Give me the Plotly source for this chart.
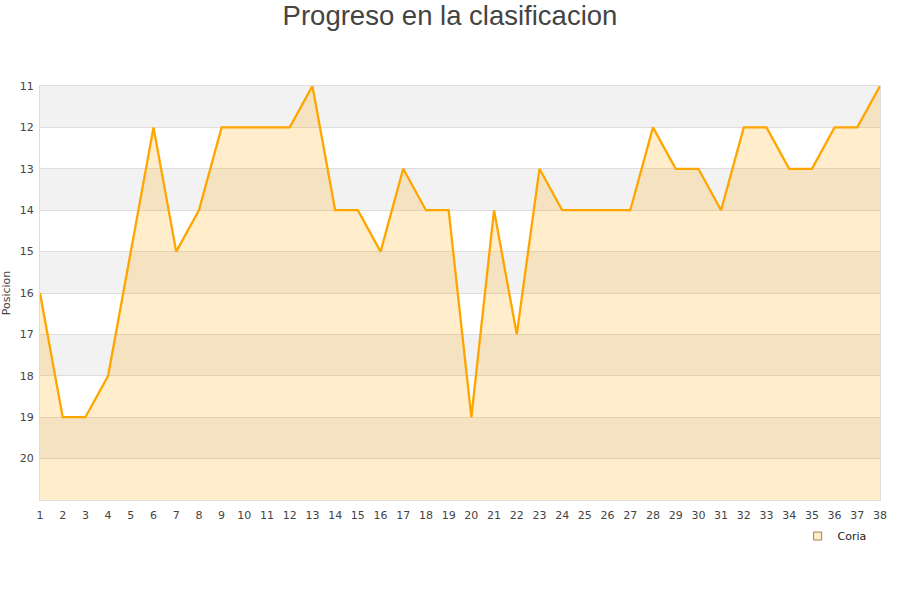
import plotly.graph_objects as go

jornadas = list(range(1, 39))
posicion = [16, 19, 19, 18, 15, 12, 15, 14, 12, 12, 12, 12, 11, 14, 14, 15, 13, 14, 14, 19,
            14, 17, 13, 14, 14, 14, 14, 12, 13, 13, 14, 12, 12, 13, 13, 12, 12, 11]
y_ticks = list(range(11, 21))
equipo = "Coria"

fig = go.Figure()
fig.add_trace(go.Scatter(x=jornadas, y=[21] * len(jornadas), mode="lines",
                         line=dict(width=0, color="rgba(0,0,0,0)"), showlegend=False,
                         hoverinfo="skip"))
fig.add_trace(go.Scatter(x=jornadas, y=posicion, mode="lines", fill="tonexty",
                         fillcolor="rgba(255,165,0,0.2)",
                         line=dict(color="#ffa500", width=2.3), showlegend=False, name=equipo))
fig.add_trace(go.Scatter(x=[None], y=[None], mode="markers", name=equipo,
                         marker=dict(symbol="square", size=8, color="#ffedcc",
                                     line=dict(color="#a08050", width=1))))

shapes = []
for i, v in enumerate(range(11, 21)):
    if i % 2 == 0:
        shapes.append(dict(type="rect", xref="paper", yref="y", x0=0, x1=1, y0=v, y1=v + 1,
                           fillcolor="#f2f2f2", line=dict(width=0), layer="below"))

fig.update_layout(
    width=900, height=600,
    margin=dict(l=40, r=20, t=86, b=100),
    paper_bgcolor="white", plot_bgcolor="white",
    title=dict(text="Progreso en la clasificacion", x=0.5, xanchor="center", y=0.99, yanchor="top",
               font=dict(family="Liberation Sans, Arial, sans-serif", size=27.5, color="#444444")),
    font=dict(family="DejaVu Sans, sans-serif", size=11, color="#444444"),
    shapes=shapes,
    xaxis=dict(range=[1, 38], tickmode="array", tickvals=jornadas, ticktext=[str(j) for j in jornadas],
               showgrid=False, zeroline=False, showline=True, linecolor="#dddddd", linewidth=1,
               mirror=True, ticks="", automargin=False, ticklabelstandoff=5,
               tickfont=dict(size=11, color="#444444")),
    yaxis=dict(range=[21, 11], tickmode="array", tickvals=y_ticks, showgrid=True,
               gridcolor="#dddddd", gridwidth=1, zeroline=False, showline=True,
               linecolor="#dddddd", linewidth=1, mirror=True, ticks="", automargin=False,
               ticklabelstandoff=3,
               title=dict(text="Posicion", font=dict(size=11, color="#444444"), standoff=6),
               tickfont=dict(size=11, color="#444444")),
    legend=dict(x=0.99, xanchor="right", y=-0.052, yanchor="top", orientation="h",
                font=dict(size=11, color="#222222"), bgcolor="rgba(0,0,0,0)"),
)

fig.write_html("out.html", config={"displayModeBar": False},
               post_script="document.body.style.margin='0';document.body.style.overflow='hidden';")
